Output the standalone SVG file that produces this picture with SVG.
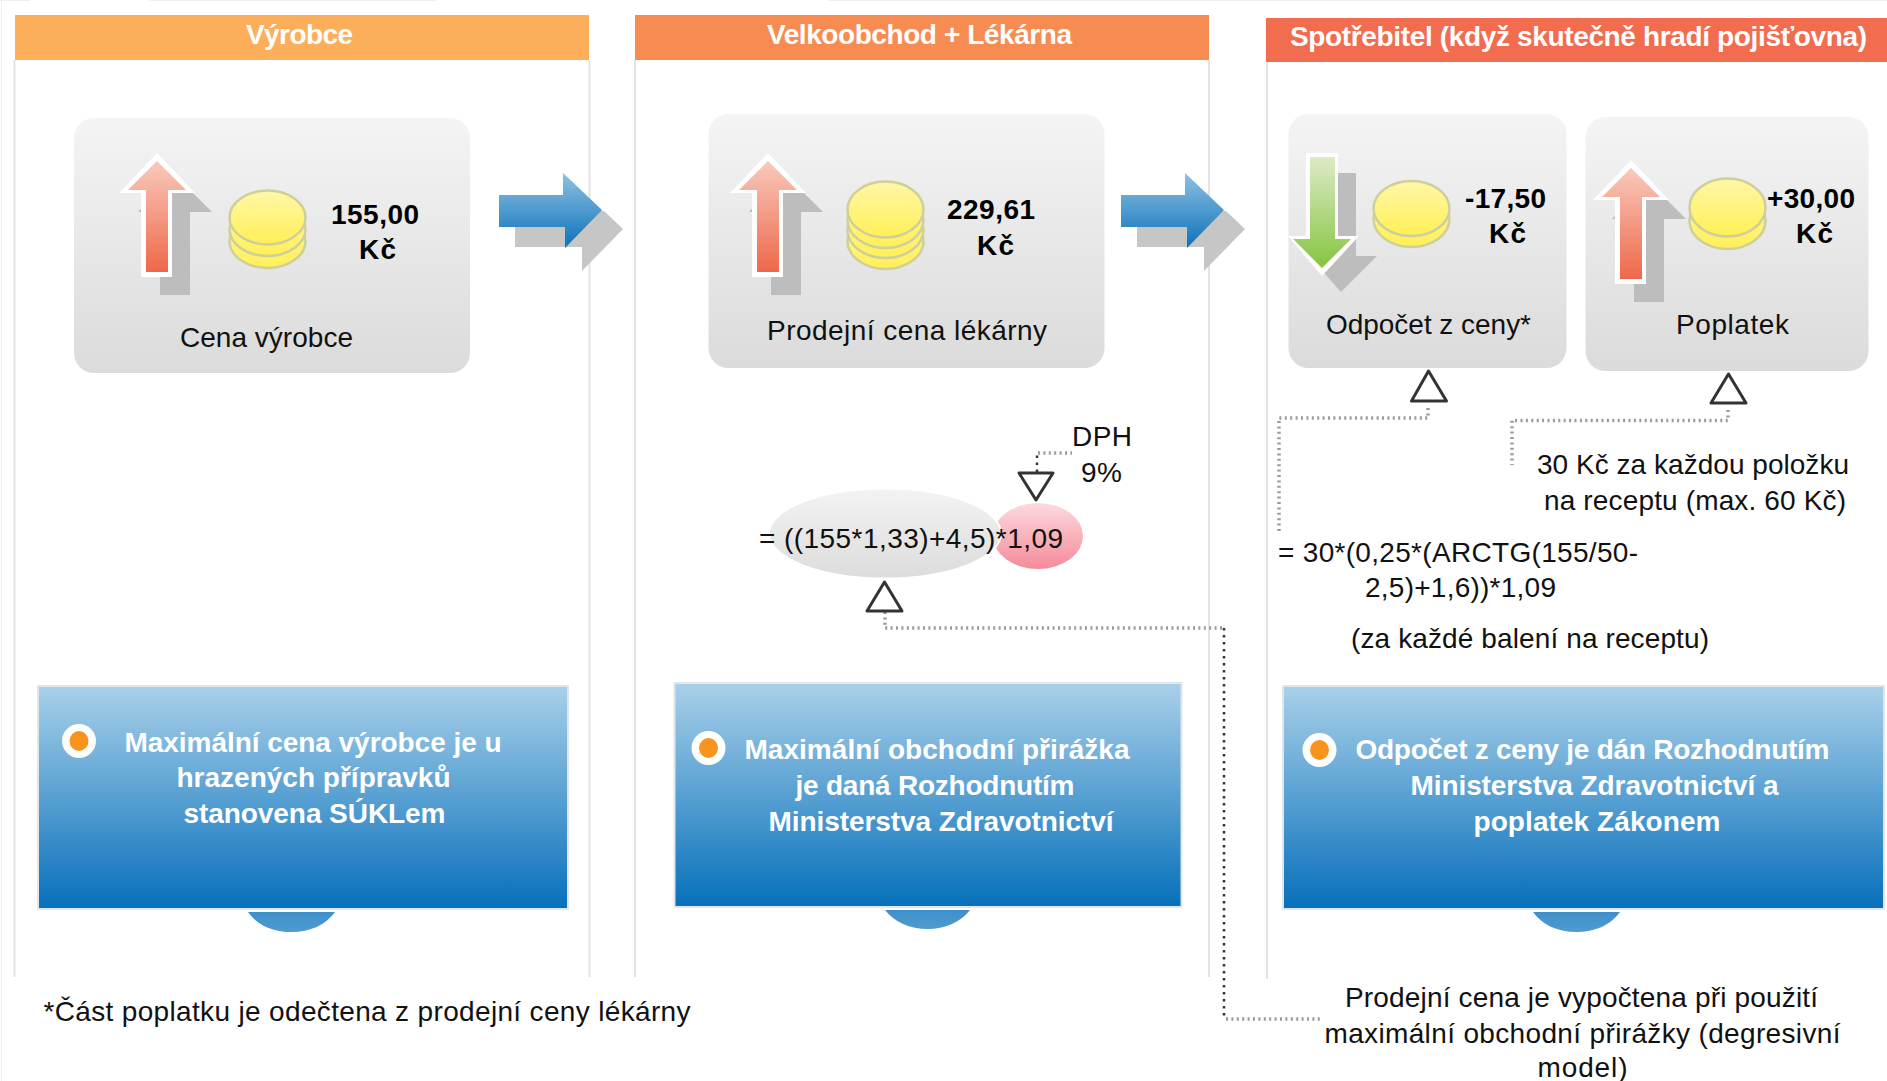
<svg xmlns="http://www.w3.org/2000/svg" width="1887" height="1081" viewBox="0 0 1887 1081">
<style>
text{font-family:"Liberation Sans",Arial,sans-serif;font-size:28px;fill:#111}
.b{font-weight:700;fill:#000}
.w{font-weight:700;fill:#fff}
.panel{stroke:#e4e4e4;stroke-width:2;fill:none}
.card{fill:url(#gCard)}
.box{fill:url(#gBox);stroke:#e2e6e9;stroke-width:2}
.lobe{fill:url(#gLobe)}
.coin{fill:url(#gCoin);stroke:#cfcf9a;stroke-width:2.5}
.tri{fill:#fff;stroke:#333;stroke-width:3;stroke-linejoin:round}
.dg{fill:none;stroke:#9a9a9a;stroke-width:3.5;stroke-dasharray:2 3.4}
.dk{fill:none;stroke:#333;stroke-width:2.5;stroke-dasharray:2.5 4.5}
.shadow{fill:#bdbdbd}
.halo{fill:#fff}
.bw{fill:#fff}
.bo{fill:#f7941d}
</style>
<defs>
<linearGradient id="gCard" x1="0" y1="0" x2="0" y2="1"><stop offset="0" stop-color="#f4f4f4"/><stop offset="1" stop-color="#dbdbdb"/></linearGradient>
<linearGradient id="gBox" x1="0" y1="0" x2="0" y2="1"><stop offset="0" stop-color="#a9d0e9"/><stop offset="1" stop-color="#0670bb"/></linearGradient>
<linearGradient id="gLobe" x1="0" y1="0" x2="0" y2="1"><stop offset="0" stop-color="#3f90ca"/><stop offset="1" stop-color="#4f9bd1"/></linearGradient>
<linearGradient id="gCoin" x1="0" y1="0" x2="0" y2="1"><stop offset="0" stop-color="#fff7a8"/><stop offset="1" stop-color="#fff055"/></linearGradient>
<linearGradient id="gRed" x1="0" y1="0" x2="0" y2="1"><stop offset="0" stop-color="#f9c9bc"/><stop offset="1" stop-color="#ee684a"/></linearGradient>
<linearGradient id="gGreen" x1="0" y1="0" x2="0" y2="1"><stop offset="0" stop-color="#dcebc6"/><stop offset="1" stop-color="#86c440"/></linearGradient>
<linearGradient id="gBlue" x1="0" y1="0" x2="0" y2="1"><stop offset="0" stop-color="#8fc1e2"/><stop offset="1" stop-color="#0b72ba"/></linearGradient>
<linearGradient id="gGrey" x1="0" y1="0" x2="0" y2="1"><stop offset="0" stop-color="#f3f3f3"/><stop offset="1" stop-color="#dcdcdc"/></linearGradient>
<linearGradient id="gPink" x1="0" y1="0" x2="0" y2="1"><stop offset="0" stop-color="#fcdade"/><stop offset="1" stop-color="#f48b99"/></linearGradient>
<g id="up">
<polygon class="shadow" points="174,174 212,212 190,212 190,295 160,295 160,212 138,212"/>
<polygon class="halo" points="157,153 195,193 172,193 172,277 141,277 141,193 119,193"/>
<polygon fill="url(#gRed)" points="157,161 186,190 168,190 168,272 146,272 146,190 128,190"/>
</g>
<g id="flow">
<polygon fill="#c6c6c6" points="515,227 585,227 582,211 604,211 623,229 582,271 582,247 515,247"/>
<polygon fill="url(#gBlue)" points="499,195 563,195 563,173 602,210 565,248 565,227 499,227"/>
</g>
</defs>
<rect width="1887" height="1081" fill="#fff"/>
<path d="M0 .5H30M149 .5H437M828 .5H1887M1.5 0V1081" stroke="#f0f0f0" fill="none"/>

<g id="panel-vyrobce">
<path class="panel" d="M14.5 60V977M589.5 60V977"/>
<rect x="15" y="15" width="574" height="45" fill="#fdae5a"/>
<text class="w" x="246" y="43.500" textLength="107">Výrobce</text>
</g>
<g id="panel-velkoobchod">
<path class="panel" d="M635 60V977M1209 60V977"/>
<rect x="635" y="15" width="574" height="45" fill="#f68c52"/>
<text class="w" x="767" y="43.500" textLength="305">Velkoobchod + Lékárna</text>
</g>
<g id="panel-spotrebitel">
<path class="panel" d="M1267 62V979"/>
<rect x="1266" y="18" width="621" height="44" fill="#f26c4f"/>
<text class="w" x="1290" y="45.500" textLength="577">Spotřebitel (když skutečně hradí pojišťovna)</text>
</g>

<g id="connectors">
<path class="dg" d="M1428 408V418H1279V533"/>
<path class="dg" d="M1728 410V420.500H1512V465"/>
<path class="dk" d="M1037 472V454"/>
<path class="dg" d="M1038 453H1072"/>
<path class="dg" d="M885 612V628H1223"/>
<path class="dk" d="M1224 628V1019"/>
<path class="dg" d="M1226 1019H1322"/>
</g>

<g id="flow-1"><use href="#flow"/></g>
<g id="flow-2"><use href="#flow" x="622"/></g>

<g id="card-cena-vyrobce">
<rect class="card" x="74" y="118" width="396" height="255" rx="20"/>
<use href="#up"/>
<ellipse class="coin" cx="267.500" cy="241" rx="38" ry="27"/>
<ellipse class="coin" cx="267.500" cy="229" rx="38" ry="27"/>
<ellipse class="coin" cx="267.500" cy="217.500" rx="38" ry="27"/>
<text class="b" x="331" y="224" textLength="88">155,00</text>
<text class="b" x="359" y="259" textLength="37">Kč</text>
<text x="180" y="346.500" textLength="173">Cena výrobce</text>
</g>

<g id="card-prodejni-cena">
<rect class="card" x="708.500" y="114" width="396" height="254" rx="20"/>
<use href="#up" x="611"/>
<ellipse class="coin" cx="885.500" cy="241" rx="38" ry="28"/>
<ellipse class="coin" cx="885.500" cy="230" rx="38" ry="28"/>
<ellipse class="coin" cx="885.500" cy="220" rx="38" ry="28"/>
<ellipse class="coin" cx="885.500" cy="209.500" rx="38" ry="28"/>
<text class="b" x="947" y="219" textLength="88">229,61</text>
<text class="b" x="977" y="255" textLength="37">Kč</text>
<text x="767" y="339.500" textLength="280">Prodejní cena lékárny</text>
</g>

<g id="card-odpocet">
<rect class="card" x="1288.500" y="114" width="278" height="254" rx="20"/>
<polygon class="shadow" points="1325,173 1356,173 1356,256 1377,256 1341,292 1309,256 1325,256"/>
<polygon class="halo" points="1306,153 1338,153 1338,236 1359,236 1322,276 1288,236 1306,236"/>
<polygon fill="url(#gGreen)" points="1310,157 1335,157 1335,239 1351,239 1322,268 1293,239 1310,239"/>
<ellipse class="coin" cx="1411.500" cy="219" rx="38" ry="28"/>
<ellipse class="coin" cx="1411.500" cy="208.500" rx="38" ry="27.500"/>
<text class="b" x="1465" y="207.500" textLength="81">-17,50</text>
<text class="b" x="1489" y="243" textLength="37">Kč</text>
<text x="1326" y="333.500" textLength="205">Odpočet z ceny*</text>
</g>

<g id="card-poplatek">
<rect class="card" x="1585.500" y="117" width="283" height="254" rx="20"/>
<use href="#up" x="1474" y="7"/>
<ellipse class="coin" cx="1727.500" cy="221" rx="38" ry="28"/>
<ellipse class="coin" cx="1727.500" cy="207.500" rx="38" ry="29"/>
<text class="b" x="1767" y="207.500" textLength="88">+30,00</text>
<text class="b" x="1796" y="243" textLength="37">Kč</text>
<text x="1676" y="333.500" textLength="113">Poplatek</text>
</g>

<g id="triangle-odpocet"><polygon class="tri" points="1428.500,371 1446.500,401 1411.500,401"/></g>
<g id="triangle-poplatek"><polygon class="tri" points="1728.500,374 1746,403 1711,403"/></g>

<g id="formula-cena">
<ellipse cx="1038" cy="536" rx="45" ry="33" fill="url(#gPink)"/>
<ellipse cx="885" cy="533.500" rx="116" ry="45" fill="url(#gGrey)" stroke="#fff" stroke-width="2"/>
<text x="759" y="547.500" textLength="304">= ((155*1,33)+4,5)*1,09</text>
<polygon class="tri" points="884.500,582 902,611 867,611"/>
<polygon class="tri" points="1019,473 1053,473 1036,500"/>
</g>

<g id="label-dph">
<text x="1072" y="445.500" textLength="60">DPH</text>
<text x="1081" y="481.500" textLength="41">9%</text>
</g>

<g id="label-poplatek">
<text x="1537" y="473.500" textLength="312">30 Kč za každou položku</text>
<text x="1544" y="509.500" textLength="302">na receptu (max. 60 Kč)</text>
</g>

<g id="formula-odpocet">
<text x="1278" y="561.500" textLength="360">= 30*(0,25*(ARCTG(155/50-</text>
<text x="1365" y="596.500" textLength="191">2,5)+1,6))*1,09</text>
<text x="1351" y="647.500" textLength="358">(za každé balení na receptu)</text>
</g>

<g id="box-vyrobce">
<path class="lobe" d="M248 912H335C326 925 310 932 291.500 932S257 925 248 912Z"/>
<rect class="box" x="38" y="686" width="530" height="223"/>
<ellipse class="bw" cx="79" cy="741" rx="17" ry="17"/><ellipse class="bo" cx="79" cy="741" rx="9.500" ry="10"/>
<text class="w" x="124.500" y="751.500" textLength="377">Maximální cena výrobce je u</text>
<text class="w" x="176.500" y="786.500" textLength="274">hrazených přípravků</text>
<text class="w" x="183.500" y="822.500" textLength="262">stanovena SÚKLem</text>
</g>

<g id="box-prirazka">
<path class="lobe" d="M885 910H970C961 922 945 929 927.500 929S894 922 885 910Z"/>
<rect class="box" x="674.500" y="683" width="507" height="224"/>
<ellipse class="bw" cx="708.500" cy="748" rx="17" ry="17"/><ellipse class="bo" cx="708.500" cy="748" rx="9.500" ry="10"/>
<text class="w" x="744.500" y="758.500" textLength="385">Maximální obchodní přirážka</text>
<text class="w" x="795.500" y="794.500" textLength="279">je daná Rozhodnutím</text>
<text class="w" x="768.500" y="830.500" textLength="345">Ministerstva Zdravotnictví</text>
</g>

<g id="box-odpocet">
<path class="lobe" d="M1533 912H1620C1611 925 1595 932 1576.500 932S1542 925 1533 912Z"/>
<rect class="box" x="1283" y="686" width="601" height="223"/>
<ellipse class="bw" cx="1319.500" cy="750" rx="17" ry="17"/><ellipse class="bo" cx="1319.500" cy="750" rx="9.500" ry="10"/>
<text class="w" x="1355.500" y="758.500" textLength="474">Odpočet z ceny je dán Rozhodnutím</text>
<text class="w" x="1410.500" y="794.500" textLength="368">Ministerstva Zdravotnictví a</text>
<text class="w" x="1473.500" y="830.500" textLength="247">poplatek Zákonem</text>
</g>

<g id="footnote">
<text x="43.500" y="1020.500" textLength="647">*Část poplatku je odečtena z prodejní ceny lékárny</text>
</g>
<g id="label-prodejni-cena">
<text x="1345" y="1006.500" textLength="473">Prodejní cena je vypočtena při použití</text>
<text x="1324.500" y="1042.500" textLength="516">maximální obchodní přirážky (degresivní</text>
<text x="1537.500" y="1077" textLength="90">model)</text>
</g>
</svg>
